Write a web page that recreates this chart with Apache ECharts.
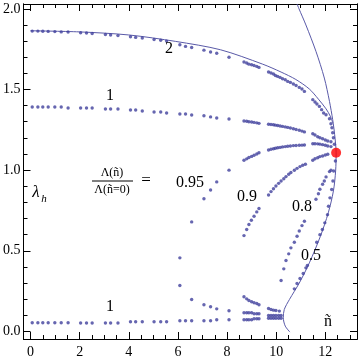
<!DOCTYPE html>
<html>
<head>
<meta charset="utf-8">
<script src="https://cdn.jsdelivr.net/npm/echarts@6.0.0/dist/echarts.min.js"></script>
<style>
html, body { margin: 0; padding: 0; background: #fff; }
#chart { width: 360px; height: 362px; }
</style>
</head>
<body>
<div id="chart"></div>
<script>
// axis ranges and tick values
const X_MIN = -0.285, X_MAX = 13.29
const Y_MIN = -0.047, Y_MAX = 2.03
const xMajor = [0, 2, 4, 6, 8, 10, 12]
const xMinor = [0.5, 1, 1.5, 2.5, 3, 3.5, 4.5, 5, 5.5, 6.5, 7, 7.5, 8.5, 9, 9.5, 10.5, 11, 11.5, 12.5, 13]
const yMajor = [0, 0.5, 1, 1.5, 2]
const yMinor = [0.1, 0.2, 0.3, 0.4, 0.6, 0.7, 0.8, 0.9, 1.1, 1.2, 1.3, 1.4, 1.6, 1.7, 1.8, 1.9]

// solid curves
const upperCurve = [[0, 1.864], [2, 1.857], [4, 1.838], [5.91, 1.798], [7.74, 1.746], [9.45, 1.657],
  [10.2, 1.608], [10.8, 1.562], [11.35, 1.503], [11.72, 1.44], [12.03, 1.38], [12.2, 1.335], [12.31, 1.29]]
const outerCurve = [[10.85, 2.03], [10.93, 2.0], [11.21, 1.90], [11.62, 1.736], [11.96, 1.571], [12.17, 1.426],
  [12.30, 1.313], [12.38, 1.22], [12.44, 1.108], [12.42, 0.995], [12.33, 0.871], [12.12, 0.735],
  [11.8, 0.59], [11.35, 0.425], [10.94, 0.30], [10.54, 0.198], [10.33, 0.136], [10.29, 0.085],
  [10.37, 0.033], [10.56, -0.004]]

// dotted families
const family2 = [[0.07, 1.862], [0.3, 1.862], [0.5, 1.861], [0.72, 1.86], [0.99, 1.859], [1.25, 1.857], [1.53, 1.856],
  [2.04, 1.852], [2.28, 1.85], [2.51, 1.847], [3.05, 1.841], [3.26, 1.838], [3.56, 1.834],
  [4.07, 1.827], [4.28, 1.823], [4.55, 1.819], [5.03, 1.81], [5.3, 1.805], [5.54, 1.8],
  [6.08, 1.777], [6.31, 1.767], [6.56, 1.76], [7.06, 1.744], [7.33, 1.732], [7.58, 1.725], [8.08, 1.70],
  [8.69, 1.67], [8.80, 1.664], [8.89, 1.657], [9.0, 1.653], [9.10, 1.649], [9.21, 1.643], [9.30, 1.637],
  [9.69, 1.608], [9.79, 1.602], [9.89, 1.596], [9.97, 1.587], [10.06, 1.581], [10.16, 1.575], [10.26, 1.567],
  [10.37, 1.56], [10.47, 1.55], [10.58, 1.544], [10.70, 1.534], [10.81, 1.525], [10.94, 1.513], [11.05, 1.503], [11.15, 1.488],
  [11.49, 1.437], [11.58, 1.422], [11.66, 1.41], [11.76, 1.395], [11.85, 1.375], [11.93, 1.354], [12.03, 1.343], [12.17, 1.319],
  [12.23, 1.288], [12.27, 1.263], [12.3, 1.232], [12.33, 1.201], [12.37, 1.16]]
const family1 = [[0.07, 1.391], [0.3, 1.391], [0.5, 1.391], [0.72, 1.391], [0.99, 1.391], [1.25, 1.391], [1.53, 1.385],
  [2.04, 1.385], [2.28, 1.385], [2.51, 1.385], [3.05, 1.379], [3.26, 1.379], [3.56, 1.379],
  [4.07, 1.373], [4.28, 1.373], [4.55, 1.367], [5.03, 1.36], [5.3, 1.36], [5.54, 1.354],
  [6.08, 1.348], [6.31, 1.348], [6.56, 1.342], [7.06, 1.337], [7.33, 1.33], [7.58, 1.323], [8.08, 1.317],
  [8.69, 1.305], [8.80, 1.303], [8.89, 1.3], [9.0, 1.298], [9.10, 1.296], [9.21, 1.293], [9.30, 1.29],
  [9.69, 1.284], [9.79, 1.283], [9.89, 1.281], [9.97, 1.279], [10.06, 1.277], [10.16, 1.274], [10.26, 1.271],
  [10.37, 1.268], [10.47, 1.265], [10.58, 1.261], [10.70, 1.257], [10.81, 1.252], [10.94, 1.247], [11.05, 1.242], [11.15, 1.237],
  [11.49, 1.226], [11.58, 1.218], [11.69, 1.207], [11.78, 1.201], [11.89, 1.195], [12.0, 1.187], [12.1, 1.181], [12.23, 1.176]]
const family095 = [[6.08, 0.456], [6.56, 0.679], [7.06, 0.823], [7.33, 0.877], [7.58, 0.927], [8.08, 1.0],
  [8.69, 1.061], [8.80, 1.07], [8.89, 1.078], [9.0, 1.085], [9.10, 1.092], [9.21, 1.1], [9.30, 1.108],
  [9.69, 1.125], [9.79, 1.129], [9.89, 1.133], [9.97, 1.136], [10.06, 1.139], [10.16, 1.141], [10.26, 1.144],
  [10.37, 1.146], [10.47, 1.148], [10.58, 1.15], [10.70, 1.152], [10.81, 1.153], [10.94, 1.154], [11.05, 1.155], [11.15, 1.156],
  [11.49, 1.164], [11.58, 1.164], [11.69, 1.163], [11.78, 1.161], [11.89, 1.158], [12.0, 1.154], [12.1, 1.15], [12.23, 1.146]]
const familyLoop = [[6.08, 0.285], [6.56, 0.198], [7.06, 0.165], [7.33, 0.153], [7.58, 0.14], [8.08, 0.128],
  [8.69, 0.215], [8.80, 0.202], [8.89, 0.192], [9.0, 0.184], [9.10, 0.178], [9.21, 0.173], [9.30, 0.165],
  [9.69, 0.142], [9.79, 0.136], [9.89, 0.132], [9.99, 0.13], [10.13, 0.126]]
const familyMid = [[8.69, 0.116], [8.80, 0.116], [8.89, 0.116], [9.0, 0.116], [9.10, 0.11], [9.21, 0.11], [9.30, 0.11],
  [9.69, 0.099], [9.79, 0.099], [9.89, 0.099], [9.99, 0.099], [10.1, 0.099], [10.2, 0.099]]
const familyLow = [[0.07, 0.054], [0.3, 0.054], [0.5, 0.054], [0.72, 0.054], [0.99, 0.054], [1.25, 0.054], [1.53, 0.054],
  [2.04, 0.052], [2.28, 0.052], [2.51, 0.052], [3.05, 0.052], [3.26, 0.052], [3.56, 0.052],
  [4.07, 0.06], [4.28, 0.06], [4.55, 0.06], [5.03, 0.06], [5.3, 0.06], [5.54, 0.06],
  [6.08, 0.066], [6.31, 0.066], [6.56, 0.066], [7.06, 0.066], [7.33, 0.066], [7.58, 0.072], [8.08, 0.072],
  [8.69, 0.072], [8.80, 0.072], [8.89, 0.072], [9.0, 0.072], [9.10, 0.079], [9.21, 0.079], [9.30, 0.079],
  [9.69, 0.082], [9.79, 0.082], [9.89, 0.082], [9.99, 0.082], [10.1, 0.082], [10.2, 0.082]]
const family09 = [[8.69, 0.594], [8.80, 0.632], [8.89, 0.663], [8.99, 0.689], [9.10, 0.714], [9.21, 0.741], [9.30, 0.762],
  [9.69, 0.846], [9.79, 0.867], [9.89, 0.885], [9.99, 0.902], [10.10, 0.918], [10.2, 0.933], [10.31, 0.947],
  [10.4, 0.96], [10.51, 0.974], [10.6, 0.985], [10.74, 0.999], [10.85, 1.011], [10.97, 1.022], [11.08, 1.03], [11.19, 1.036],
  [11.49, 1.061], [11.58, 1.071], [11.69, 1.077], [11.78, 1.084], [11.89, 1.088], [12.0, 1.094], [12.1, 1.098]]
const family08 = [[10.2, 0.316], [10.31, 0.388], [10.4, 0.44], [10.51, 0.481], [10.6, 0.518], [10.74, 0.553],
  [10.85, 0.59], [10.94, 0.623], [11.05, 0.656], [11.15, 0.683],
  [11.62, 0.819], [11.72, 0.854], [11.78, 0.881], [11.89, 0.912], [11.96, 0.933], [12.03, 0.958], [12.17, 0.991], [12.23, 0.999]]
const family05 = [[10.74, 0.264], [10.85, 0.297], [10.97, 0.328], [11.1, 0.359], [11.21, 0.394], [11.27, 0.409],
  [11.65, 0.553], [11.78, 0.60], [11.88, 0.632], [11.98, 0.673], [12.09, 0.724], [12.13, 0.776], [12.19, 0.828],
  [12.26, 0.88], [12.31, 0.933], [12.34, 0.995], [12.41, 1.057]]
const critical = [[12.44, 1.108]]

const SERIF = "'Liberation Serif', 'DejaVu Serif', serif"
const DOT = '#40409c'
const LINE = '#5a5aa8'

function xAx(position, ticks, len, labels) {
  return {
    type: 'value', position: position, min: X_MIN, max: X_MAX,
    axisLine: { show: true, onZero: false, lineStyle: { color: '#000', width: 1 } },
    axisTick: { show: true, inside: true, length: len, customValues: ticks, lineStyle: { color: '#000' } },
    axisLabel: { show: labels, customValues: ticks, margin: 6, color: '#000', fontFamily: SERIF, fontSize: 14 },
    splitLine: { show: false }
  }
}
function yAx(position, ticks, len, labels) {
  return {
    type: 'value', position: position, min: Y_MIN, max: Y_MAX,
    axisLine: { show: true, onZero: false, lineStyle: { color: '#000', width: 1 } },
    axisTick: { show: true, inside: true, length: len, customValues: ticks, lineStyle: { color: '#000' } },
    axisLabel: {
      show: labels, customValues: ticks, margin: 3, color: '#000', fontFamily: SERIF, fontSize: 14,
      formatter: v => v.toFixed(1)
    },
    splitLine: { show: false }
  }
}
function dots(data) {
  return { type: 'scatter', data: data, symbol: 'circle', symbolSize: 3.4, itemStyle: { color: DOT }, silent: true, z: 3 }
}
function curve(data) {
  return { type: 'line', data: data, smooth: 0.3, symbol: 'none', clip: true, lineStyle: { color: LINE, width: 1 }, silent: true, z: 2 }
}
function label(text, x, y, size, style) {
  return {
    type: 'text', x: x, y: y, z: 10,
    style: { text: text, font: (style || '') + ' ' + size + 'px ' + SERIF, fill: '#000', align: 'center', verticalAlign: 'middle', textAlign: 'center', textVerticalAlign: 'middle' }
  }
}

const chart = echarts.init(document.getElementById('chart'))
chart.setOption({
  animation: false,
  backgroundColor: '#fff',
  grid: { left: 23, right: 3, top: 4, bottom: 23, containLabel: false },
  xAxis: [xAx('bottom', xMajor, 7, true), xAx('bottom', xMinor, 4, false), xAx('top', xMajor, 7, false), xAx('top', xMinor, 4, false)],
  yAxis: [yAx('left', yMajor, 7, true), yAx('left', yMinor, 4, false), yAx('right', yMajor, 7, false), yAx('right', yMinor, 4, false)],
  series: [
    curve(upperCurve),
    curve(outerCurve),
    dots(family2), dots(family1), dots(family095), dots(familyLoop), dots(familyMid),
    dots(familyLow), dots(family09), dots(family08), dots(family05),
    { type: 'scatter', data: critical, symbolSize: 10, itemStyle: { color: '#ff0000' }, z: 5, silent: true }
  ],
  graphic: [
    label('2', 169, 49, 16),
    label('1', 110, 96, 16),
    label('1', 110, 307, 16),
    label('λ', 36, 193, 17, 'italic'),
    label('h', 44, 199, 11, 'italic'),
    label('Λ(ñ)', 112, 173, 12),
    { type: 'line', shape: { x1: 92, y1: 181, x2: 133, y2: 181 }, style: { stroke: '#000', lineWidth: 1 }, z: 10 },
    label('Λ(ñ=0)', 112, 190, 12),
    label('=', 146, 181, 17),
    label('0.95', 190, 183, 16),
    label('0.9', 247, 197, 16),
    label('0.8', 302, 207, 16),
    label('0.5', 311, 256, 16),
    label('ñ', 328, 322, 16)
  ]
})
window.addEventListener('resize', () => chart.resize())
</script>
</body>
</html>
